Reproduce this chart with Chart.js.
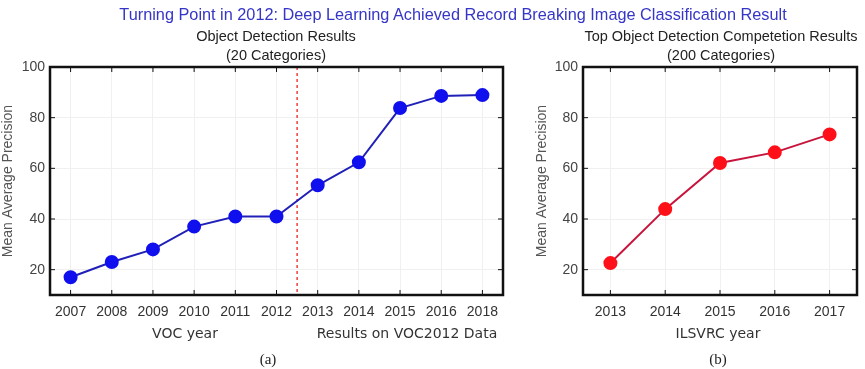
<!DOCTYPE html>
<html>
<head>
<meta charset="utf-8">
<script src="https://cdn.jsdelivr.net/npm/chart.js@4"></script>
<style>
  body { margin: 0; background: #fff; }
  #wrap { position: relative; width: 865px; height: 369px; overflow: hidden; }
  canvas { position: absolute; top: 0; }
  .lbl { position: absolute; transform: translate(-50%, -50%); white-space: nowrap;
         font-family: "Liberation Sans", Arial, sans-serif; font-size: 14.5px; color: #222; }
  .tah { font-family: "DejaVu Sans", sans-serif; font-size: 14px; color: #333; }
  .ser { font-family: "Liberation Serif", serif; font-size: 15px; color: #222; }
</style>
</head>
<body>
<div id="wrap">
  <canvas id="voc-chart" width="515" height="369" style="left:0"></canvas>
  <canvas id="ilsvrc-chart" width="350" height="369" style="left:515px"></canvas>

  <div class="lbl" style="left:453px; top:14px; font-size:16.3px; color:#3535c8">Turning Point in 2012: Deep Learning Achieved Record Breaking Image Classification Result</div>
  <div class="lbl" style="left:276px; top:36px">Object Detection Results</div>
  <div class="lbl" style="left:276px; top:55px">(20 Categories)</div>
  <div class="lbl" style="left:721px; top:36px">Top Object Detection Competetion Results</div>
  <div class="lbl" style="left:721px; top:55px">(200 Categories)</div>

  <div class="lbl tah" style="left:185px; top:333px">VOC year</div>
  <div class="lbl tah" style="left:407px; top:333px">Results on VOC2012 Data</div>
  <div class="lbl tah" style="left:718px; top:333px">ILSVRC year</div>
  <div class="lbl ser" style="left:268px; top:359px">(a)</div>
  <div class="lbl ser" style="left:718px; top:359px">(b)</div>
</div>

<script>
// chart values
var vocYears = ["2007", "2008", "2009", "2010", "2011", "2012", "2013", "2014", "2015", "2016", "2018"];
var vocMAP = [17, 23, 28, 37, 41, 41, 53.3, 62.4, 83.8, 88.6, 88.9];

var ilsvrcYears = ["2013", "2014", "2015", "2016", "2017"];
var ilsvrcMAP = [22.6, 43.9, 62.1, 66.3, 73.4];

var yTicks = [20, 40, 60, 80, 100];

// the year (index) after which the dashed split line goes
var splitAfter = 5;

// frame, inner tick marks and the dashed split line
var framePlugin = {
	id: "frame",
	beforeDatasetsDraw: function(chart) {
		var c = chart.ctx, a = chart.chartArea;
		var xs = chart.scales.x, ys = chart.scales.y;
		c.save();

		if (chart.options.plugins.frame.split) {
			var px = (xs.getPixelForValue(splitAfter) + xs.getPixelForValue(splitAfter + 1)) / 2;
			c.strokeStyle = "#e81010";
			c.lineWidth = 1.2;
			c.setLineDash([3, 3]);
			c.beginPath();
			c.moveTo(px, a.top);
			c.lineTo(px, a.bottom);
			c.stroke();
			c.setLineDash([]);
		}

		c.strokeStyle = "#111";
		c.lineWidth = 1;
		c.beginPath();
		xs.ticks.forEach(function(t, i) {
			var x = xs.getPixelForTick(i);
			c.moveTo(x, a.bottom); c.lineTo(x, a.bottom - 5);
			c.moveTo(x, a.top); c.lineTo(x, a.top + 5);
		});
		ys.ticks.forEach(function(t, i) {
			var y = ys.getPixelForTick(i);
			c.moveTo(a.left, y); c.lineTo(a.left + 5, y);
			c.moveTo(a.right, y); c.lineTo(a.right - 5, y);
		});
		c.stroke();

		c.lineWidth = 2.5;
		c.strokeRect(a.left, a.top, a.right - a.left, a.bottom - a.top);
		c.restore();
	}
};

function makeChart(id, labels, data, lineColor, pointColor, opts) {
	var ctx = document.getElementById(id).getContext("2d");
	return new Chart(ctx, {
		type: "line",
		data: {
			labels: labels,
			datasets: [{
				data: data,
				borderColor: lineColor,
				borderWidth: 2,
				pointBackgroundColor: pointColor,
				pointBorderColor: pointColor,
				pointRadius: 6,
				tension: 0
			}]
		},
		options: {
			responsive: false,
			animation: false,
			layout: { padding: { top: 67, right: opts.right, left: opts.left, bottom: 0 } },
			plugins: {
				legend: { display: false },
				tooltip: { enabled: false },
				frame: { split: opts.split }
			},
			scales: {
				x: {
					offset: true,
					grid: { color: "#f0f0f0", drawTicks: false, offset: false },
					border: { display: false },
					ticks: { padding: 9, color: "#333", font: { family: "Liberation Sans", size: 14 } },
					afterFit: function(s) { s.height = 74; }
				},
				y: {
					min: 10,
					max: 100,
					afterBuildTicks: function(s) {
						s.ticks = yTicks.map(function(v) { return { value: v }; });
					},
					grid: { color: "#f0f0f0", drawTicks: false },
					border: { display: false },
					ticks: { padding: 5, color: "#444", font: { family: "Liberation Sans", size: 14 } },
					title: {
						display: true,
						text: "Mean Average Precision",
						color: "#555",
						padding: 0,
						font: { family: "Liberation Sans", size: 14 }
					},
					afterFit: function(s) { s.width = opts.yWidth; }
				}
			}
		},
		plugins: [framePlugin]
	});
}

makeChart("voc-chart", vocYears, vocMAP, "#2020b8", "#1010ee",
	{ left: 0, right: 12, yWidth: 50, split: true });
makeChart("ilsvrc-chart", ilsvrcYears, ilsvrcMAP, "#c8143c", "#ff1018",
	{ left: 19, right: 6, yWidth: 49, split: false });
</script>
</body>
</html>
